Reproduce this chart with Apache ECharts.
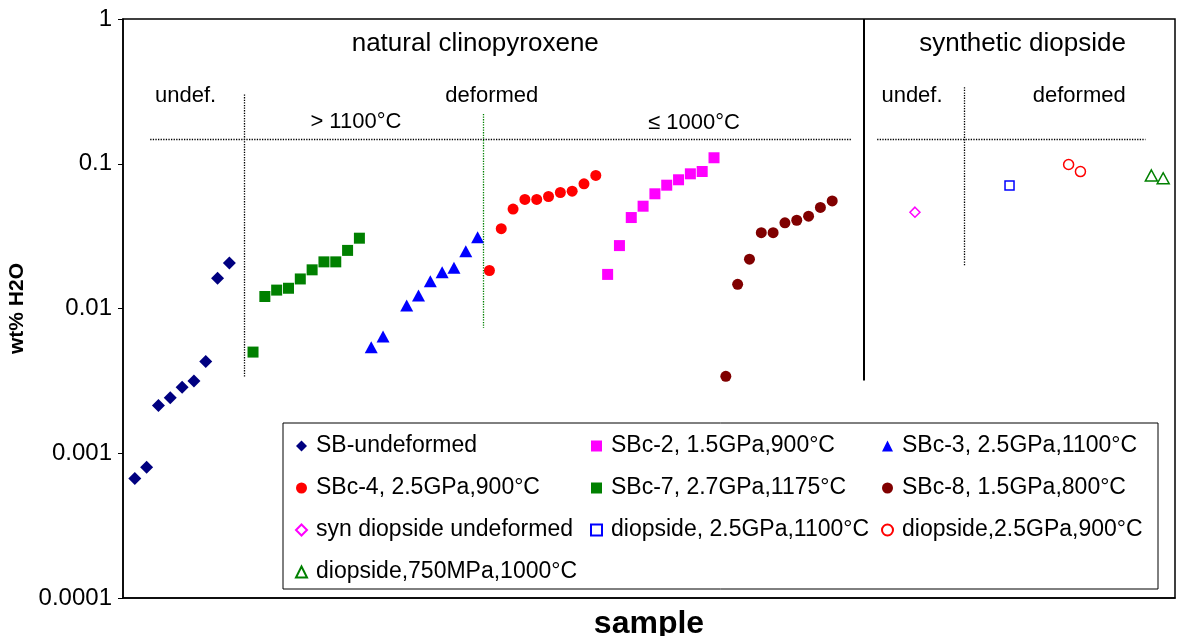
<!DOCTYPE html>
<html><head><meta charset="utf-8">
<script src="https://cdn.jsdelivr.net/npm/echarts@6/dist/echarts.min.js"></script>
<style>html,body{margin:0;padding:0;background:#fff}#c{width:1177px;height:636px}</style>
</head><body><div id="c"></div>
<script>
// ---- data (sample index, wt% H2O) ----
const sbUndefX = [1,2,3,4,5,6,7,8,9];
const sbUndefY = [0.00067,0.00080,0.00214,0.00242,0.00286,0.00315,0.00430,0.0162,0.0206];
const sbc7X = [11,12,13,14,15,16,17,18,19,20];
const sbc7Y = [0.0050,0.0121,0.0134,0.0138,0.0160,0.0185,0.0210,0.0210,0.0252,0.0306];
const sbc3X = [21,22,24,25,26,27,28,29,30];
const sbc3Y = [0.0054,0.0064,0.0105,0.0123,0.0154,0.0178,0.0191,0.0249,0.0311];
const sbc4X = [31,32,33,34,35,36,37,38,39,40];
const sbc4Y = [0.0183,0.0356,0.0486,0.0567,0.0567,0.0594,0.0633,0.0646,0.0727,0.0830];
const sbc2X = [41,42,43,44,45,46,47,48,49,50];
const sbc2Y = [0.0172,0.0272,0.0425,0.0509,0.0620,0.0711,0.0775,0.0852,0.0884,0.110];
const sbc8X = [51,52,53,54,55,56,57,58,59,60];
const sbc8Y = [0.0034,0.0147,0.0219,0.0334,0.0334,0.0391,0.0407,0.0434,0.0499,0.0554];
const synUndefX = [67];
const synUndefY = [0.0463];
const di1100X = [75];
const di1100Y = [0.0708];
const di900X = [80,81];
const di900Y = [0.0989,0.0883];
const di750X = [87,88];
const di750Y = [0.0830,0.0794];

const yTickLabels = ['0.0001','0.001','0.01','0.1','1'];

// annotation texts with their data-space anchor [sample index, wt%]
const headTexts = ['natural clinopyroxene','synthetic diopside'];
const headX = [29.8, 76.1];
const headY = [0.678, 0.678];
const subTexts = ['undef.','deformed','> 1100°C','\u2264 1000°C','undef.','deformed'];
const subX = [5.3, 31.2, 19.7, 48.3, 66.75, 80.9];
const subY = [0.296, 0.296, 0.194, 0.190, 0.296, 0.296];

// divider lines: [x1, y1, x2, y2]
const dividerDotted = [[10.3,0.301,10.3,0.00334],[71.2,0.338,71.2,0.0196],[2.3,0.147,61.6,0.147],[63.8,0.147,86.5,0.147]];
const dividerGreen = [[30.5,0.221,30.5,0.00736]];
const dividerSolid = [[62.65,1,62.65,0.00318]];

const zip = (xs, ys) => xs.map((x, i) => [x, ys[i]]);
const FONT = 'Liberation Sans, Arial, sans-serif';

const seriesDefs = [
  {name:'SB-undeformed', x:sbUndefX, y:sbUndefY, symbol:'diamond', size:13, style:{color:'#000080'}},
  {name:'SBc-2, 1.5GPa,900°C', x:sbc2X, y:sbc2Y, symbol:'rect', size:11, style:{color:'#FF00FF'}},
  {name:'SBc-3, 2.5GPa,1100°C', x:sbc3X, y:sbc3Y, symbol:'triangle', size:[13,12], style:{color:'#0000FF'}},
  {name:'SBc-4, 2.5GPa,900°C', x:sbc4X, y:sbc4Y, symbol:'circle', size:11, style:{color:'#FF0000'}},
  {name:'SBc-7, 2.7GPa,1175°C', x:sbc7X, y:sbc7Y, symbol:'rect', size:11, style:{color:'#008000'}},
  {name:'SBc-8, 1.5GPa,800°C', x:sbc8X, y:sbc8Y, symbol:'circle', size:11, style:{color:'#800000'}},
  {name:'syn diopside undeformed', x:synUndefX, y:synUndefY, symbol:'diamond', size:10, style:{color:'#fff', borderColor:'#FF00FF', borderWidth:1.5}},
  {name:'diopside, 2.5GPa,1100°C', x:di1100X, y:di1100Y, symbol:'rect', size:9, style:{color:'#fff', borderColor:'#0000FF', borderWidth:1.5}},
  {name:'diopside,2.5GPa,900°C', x:di900X, y:di900Y, symbol:'circle', size:10, style:{color:'#fff', borderColor:'#FF0000', borderWidth:1.5}},
  {name:'diopside,750MPa,1000°C', x:di750X, y:di750Y, symbol:'triangle', size:[12,11], style:{color:'#fff', borderColor:'#008000', borderWidth:1.5}}
];

const legendCols = [
  ['SB-undeformed','SBc-4, 2.5GPa,900°C','syn diopside undeformed','diopside,750MPa,1000°C'],
  ['SBc-2, 1.5GPa,900°C','SBc-7, 2.7GPa,1175°C','diopside, 2.5GPa,1100°C'],
  ['SBc-3, 2.5GPa,1100°C','SBc-8, 1.5GPa,800°C','diopside,2.5GPa,900°C']
];
const legendLeft = [290, 585, 876];

const seg = (arr, style) => arr.map(s => [{coord:[s[0], s[1]], lineStyle: style}, {coord:[s[2], s[3]]}]);

const series = seriesDefs.map(d => ({
  type:'scatter', name:d.name, data:zip(d.x, d.y), symbol:d.symbol, symbolSize:d.size,
  itemStyle:Object.assign({opacity:1}, d.style), z:3, emphasis:{disabled:true}
}));

series.push({
  type:'scatter', name:'_lines', data:[], silent:true,
  markLine:{
    symbol:'none', silent:true, animation:false, label:{show:false},
    data:[].concat(
      seg(dividerDotted, {type:'dotted', color:'#000', width:1.3, opacity:1}),
      seg(dividerGreen, {type:'dotted', color:'#008000', width:1.3, opacity:1}),
      seg(dividerSolid, {type:'solid', color:'#000', width:2, opacity:1})
    )
  }
});
series.push({
  type:'scatter', name:'_head', data:headTexts.map((t,i)=>({name:t, value:[headX[i], headY[i]]})),
  symbolSize:0, silent:true, itemStyle:{opacity:1},
  label:{show:true, position:'inside', formatter:'{b}', fontSize:26, color:'#000', fontFamily:FONT}
});
series.push({
  type:'scatter', name:'_sub', data:subTexts.map((t,i)=>({name:t, value:[subX[i], subY[i]]})),
  symbolSize:0, silent:true, itemStyle:{opacity:1},
  label:{show:true, position:'inside', formatter:'{b}', fontSize:22, color:'#000', fontFamily:FONT}
});

const chart = echarts.init(document.getElementById('c'), null, {renderer:'canvas'});
chart.setOption({
  animation:false,
  backgroundColor:'#fff',
  textStyle:{fontFamily:FONT},
  grid:{left:123, right:2, top:19, bottom:38, outerBoundsMode:'none', containLabel:false,
        show:true, borderColor:'#000', borderWidth:1.5, backgroundColor:'transparent'},
  xAxis:{
    type:'value', min:0, max:89, name:'sample', nameLocation:'middle', nameGap:10,
    nameTextStyle:{fontSize:32, fontWeight:'bold', color:'#000', fontFamily:FONT},
    axisLine:{show:true, lineStyle:{color:'#000', width:1.5}}, axisTick:{show:false},
    axisLabel:{show:false}, splitLine:{show:false}
  },
  yAxis:{
    type:'log', logBase:10, min:0.0001, max:1, name:'wt% H2O', nameLocation:'middle', nameGap:87,
    nameTextStyle:{fontSize:21, fontWeight:'bold', color:'#000', fontFamily:FONT},
    axisLine:{show:true, lineStyle:{color:'#000', width:1.5}},
    axisTick:{show:true, inside:false, length:5, lineStyle:{color:'#000'}},
    axisLabel:{fontSize:24, color:'#000', margin:11, fontFamily:FONT,
      formatter: v => yTickLabels[Math.round(Math.log10(v)) + 4]},
    splitLine:{show:false}
  },
  graphic:[{type:'rect', shape:{x:283, y:423, width:875, height:166}, style:{fill:'#fff', stroke:'#000', lineWidth:1}, z:3}],
  legend: legendCols.map((col, i) => ({
    data: col, orient:'vertical', left: legendLeft[i], top: 429, itemGap: 18,
    itemWidth: 11, itemHeight: 11, selectedMode:false, z:5,
    textStyle:{fontSize:23, color:'#000', lineHeight:24, fontFamily:FONT, padding:[0,0,0,4]}
  })),
  series: series
});
</script></body></html>
